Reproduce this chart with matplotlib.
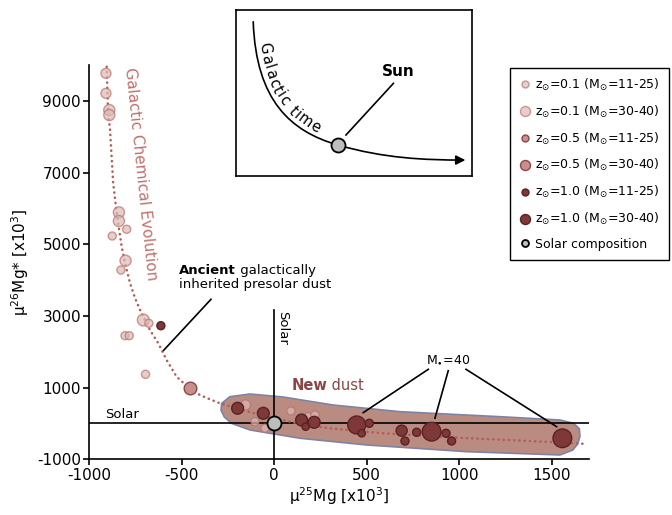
import matplotlib
matplotlib.use('Agg')
import matplotlib.pyplot as plt
from matplotlib.lines import Line2D
from matplotlib.font_manager import FontProperties
from matplotlib.transforms import IdentityTransform
from matplotlib.path import Path
from matplotlib.patches import FancyArrowPatch
import numpy as np

plt.rcParams['font.family'] = ['DejaVu Sans']
plt.rcParams['mathtext.default'] = 'regular'
plt.rcParams['axes.unicode_minus'] = False

# --- data ---
# z=0.1 grains (light)
low_x = [-910, -910, -892, -892, -840, -840, -798, -876, -804, -829, -708, -678,
         -807, -784, -696, -155, -104, -50, 90, 184, 220]
low_y = [9767, 9209, 8743, 8604, 5890, 5647, 5416, 5229, 4540, 4280, 2886, 2794,
         2448, 2448, 1371, 515, 49, -135, 347, 188, 236]
low_m = [17, 17, 20, 20, 20, 20, 12, 12, 20, 12, 22, 12,
         12, 12, 12, 17, 12, 12, 12, 12, 12]

# z=0.5 grains
mid_x = [-456]
mid_y = [981]
mid_m = [24]

# z=1.0 grains (dark)
high_x = [-613, -198, -59, 148, 170, 216, 446, 514, 473, 689, 707, 770, 851, 929, 959, 1558]
high_y = [2727, 423, 283, 96, -91, 32, -43, 4, -275, -202, -490, -247, -230, -275, -490, -414]
high_m = [12, 22, 22, 22, 10, 22, 38, 12, 10, 20, 12, 12, 40, 12, 12, 40]

sun_x = [0]
sun_y = [0]

# galactic chemical evolution track
gce_x = [-906, -898, -889, -871, -856, -844, -825, -807, -780, -753, -726, -672, -627,
         -582, -528, -465, -402, -348, -294, -200, -131, -50, 46, 150, 301, 450, 590,
         800, 1058, 1300, 1500, 1690]
gce_y = [9951, 8557, 8278, 6707, 6046, 5591, 4930, 4475, 3917, 3499, 3164, 2606, 2235,
         1769, 1304, 1008, 794, 674, 562, 420, 319, 190, 96, -30, -135, -210, -275,
         -340, -415, -470, -520, -573]

# "new dust" region outline
blob_x = [-284, -240, -131, 47, 317, 680, 1221, 1545, 1620, 1650, 1653, 1640, 1615, 1545,
          1041, 500, 139, -131, -230, -270, -288]
blob_y = [562, 746, 821, 738, 515, 328, 188, 96, 0, -150, -370, -580, -740, -880,
          -788, -601, -414, -183, 0, 180, 375]

# inset schematic: bezier nodes/controls (axes fraction)
time_u = [0.073, 0.085, 0.234, 0.431, 0.628, 0.80, 0.972]
time_v = [0.929, 0.45, 0.268, 0.187, 0.106, 0.096, 0.096]

legend_labels = [r'z$_{\odot}$=0.1 (M$_{\odot}$=11-25)', r'z$_{\odot}$=0.1 (M$_{\odot}$=30-40)',
                 r'z$_{\odot}$=0.5 (M$_{\odot}$=11-25)', r'z$_{\odot}$=0.5 (M$_{\odot}$=30-40)',
                 r'z$_{\odot}$=1.0 (M$_{\odot}$=11-25)', r'z$_{\odot}$=1.0 (M$_{\odot}$=30-40)',
                 'Solar composition']

# colours
low_fc, low_ec, low_a = '#dcbab6', '#b8726d', 0.7
mid_fc, mid_ec = '#c98f8d', '#8e4747'
high_fc, high_ec = '#7e3838', '#5a2222'
gce_col = '#b55a56'
blob_fc, blob_ec = '#ba8c81', '#7f83a3'


def msize(m):
    d = 3.5 + 0.38 * np.asarray(m)  # diameter in px
    return (d * 0.72) ** 2


fig = plt.figure(figsize=(6.72, 5.15), dpi=100)
ax = fig.add_axes([0.1329, 0.1082, 0.743, 0.7656])

ax.fill(blob_x, blob_y, facecolor=blob_fc, edgecolor=blob_ec, lw=1.2, zorder=1)
ax.axhline(0, color='k', lw=1.2, zorder=2)
ax.plot([0, 0], [-1000, 3165], color='k', lw=1.2, zorder=2)
ax.plot(gce_x, gce_y, color=gce_col, lw=1.8, linestyle=(0, (0.1, 2.0)),
        dash_capstyle='round', zorder=3)

ax.scatter(low_x, low_y, s=msize(low_m), facecolor=low_fc, edgecolor=low_ec, lw=1.0,
           alpha=low_a, zorder=4)
ax.scatter(mid_x, mid_y, s=msize(mid_m), facecolor=mid_fc, edgecolor=mid_ec, lw=1.0, zorder=4)
ax.scatter(high_x, high_y, s=msize(high_m), facecolor=high_fc, edgecolor=high_ec, lw=1.0, zorder=4)
ax.scatter(sun_x, sun_y, s=(14 * 0.72) ** 2, facecolor='#bdbdbd', edgecolor='k', lw=1.3, zorder=5)

ax.set_xlim(-1000, 1700)
ax.set_ylim(-1000, 10000)
ax.set_xticks([-1000, -500, 0, 500, 1000, 1500])
ax.set_yticks([-1000, 1000, 3000, 5000, 7000, 9000])
ax.tick_params(direction='out', length=4, width=1.2, labelsize=11, pad=2)
for s in ['top', 'right']:
    ax.spines[s].set_visible(False)
for s in ['left', 'bottom']:
    ax.spines[s].set_linewidth(1.2)
ax.set_xlabel(r'μ$^{25}$Mg [x10$^3$]', fontsize=11, labelpad=2)
ax.set_ylabel(r'μ$^{26}$Mg* [x10$^3$]', fontsize=11, labelpad=4)

# annotations
ax.text(-721, 6958, 'Galactic Chemical Evolution', rotation=-84, color='#c0716c',
        fontsize=11, ha='center', va='center', rotation_mode='anchor')
t1 = ax.text(-514, 4260, 'Ancient', fontweight='bold', fontsize=9.5, va='center')
ax.annotate(' galactically', xy=(1, 0), xycoords=t1, va='bottom', fontsize=9.5)
ax.text(-514, 3880, 'inherited presolar dust', fontsize=9.5, va='center')
ax.plot([-342, -600], [3463, 2029], color='k', lw=1.2)

ax.text(47, 2663, 'Solar', rotation=-90, fontsize=9.5, ha='center', va='center')
ax.text(-916, 60, 'Solar', fontsize=9.5, ha='left', va='bottom')

t2 = ax.text(94, 1072, 'New', fontweight='bold', fontsize=10.5, color='#8b4545', va='center')
ax.annotate(' dust', xy=(1, 0), xycoords=t2, va='bottom', fontsize=10.5, color='#8b4545')

ax.text(939, 1770, r'M$_{\bullet}$=40', fontsize=9, ha='center', va='center')
ax.plot([833, 481], [1510, 300], color='k', lw=1.2)
ax.plot([941, 869], [1471, 144], color='k', lw=1.2)
ax.plot([1037, 1527], [1510, -90], color='k', lw=1.2)

# legend
handles = [
    Line2D([], [], ls='', marker='o', ms=5.0, mfc=low_fc, mec=low_ec, mew=1.0, alpha=low_a),
    Line2D([], [], ls='', marker='o', ms=7.2, mfc=low_fc, mec=low_ec, mew=1.0, alpha=low_a),
    Line2D([], [], ls='', marker='o', ms=5.0, mfc=mid_fc, mec=mid_ec, mew=1.0),
    Line2D([], [], ls='', marker='o', ms=7.2, mfc=mid_fc, mec=mid_ec, mew=1.0),
    Line2D([], [], ls='', marker='o', ms=5.0, mfc=high_fc, mec=high_ec, mew=1.0),
    Line2D([], [], ls='', marker='o', ms=7.2, mfc=high_fc, mec=high_ec, mew=1.0),
    Line2D([], [], ls='', marker='o', ms=5.0, mfc='#bdbdbd', mec='k', mew=1.3),
]
leg = fig.legend(handles, legend_labels, loc='upper left',
                 bbox_to_anchor=(510 / 672, 1 - 68 / 515), fontsize=9,
                 frameon=True, fancybox=False, edgecolor='k', framealpha=1,
                 labelspacing=0.86, handletextpad=0.3, handlelength=1.0,
                 borderpad=0.7, borderaxespad=0)
leg.get_frame().set_linewidth(1.0)

# inset schematic
ins = fig.add_axes([236 / 672, 1 - 176 / 515, 236 / 672, 166 / 515])
ins.set_xlim(0, 1)
ins.set_ylim(0, 1)
ins.set_xticks([])
ins.set_yticks([])
for s in ins.spines.values():
    s.set_linewidth(1.2)
codes = [Path.MOVETO] + [Path.CURVE4] * 6
time_path = Path(np.column_stack([time_u, time_v]), codes)
ins.add_patch(FancyArrowPatch(path=time_path, arrowstyle='-|>', mutation_scale=14,
                              color='k', lw=1.2, transform=ins.transData))
ins.scatter([time_u[3]], [time_v[3]], s=(14 * 0.72) ** 2, facecolor='#bdbdbd',
            edgecolor='k', lw=1.3, zorder=5)
ins.text(0.686, 0.628, 'Sun', fontweight='bold', fontsize=11, ha='center', va='center')
ins.plot([0.667, 0.466], [0.558, 0.247], color='k', lw=1.2)

# "Galactic time" written along the curve
renderer = fig.canvas.get_renderer()
pts = time_path.to_polygons(transform=ins.transData, closed_only=False)[0]
seg = np.hypot(np.diff(pts[:, 0]), np.diff(pts[:, 1]))
keep = seg > 1e-6
pts = np.vstack([pts[0], pts[1:][keep]])
seg = seg[keep]
cum = np.concatenate([[0], np.cumsum(seg)])
fp = FontProperties(size=10.5)
s_pos = 22.0
for ch in 'Galactic time':
    if ch == ' ':
        w = 4.5
    else:
        w = renderer.get_text_width_height_descent(ch, fp, ismath=False)[0]
    sc = s_pos + w / 2
    i = int(min(max(np.searchsorted(cum, sc) - 1, 0), len(seg) - 1))
    f = (sc - cum[i]) / seg[i]
    p = pts[i] + f * (pts[i + 1] - pts[i])
    d = (pts[i + 1] - pts[i]) / seg[i]
    nrm = np.array([-d[1], d[0]])
    pos = p + nrm * 8.5
    ang = np.degrees(np.arctan2(d[1], d[0]))
    if ch != ' ':
        fig.text(pos[0], pos[1], ch, transform=IdentityTransform(), fontproperties=fp,
                 rotation=ang, ha='center', va='center', rotation_mode='anchor')
    s_pos += w + 1.6

fig.savefig('out.png', dpi=100)
